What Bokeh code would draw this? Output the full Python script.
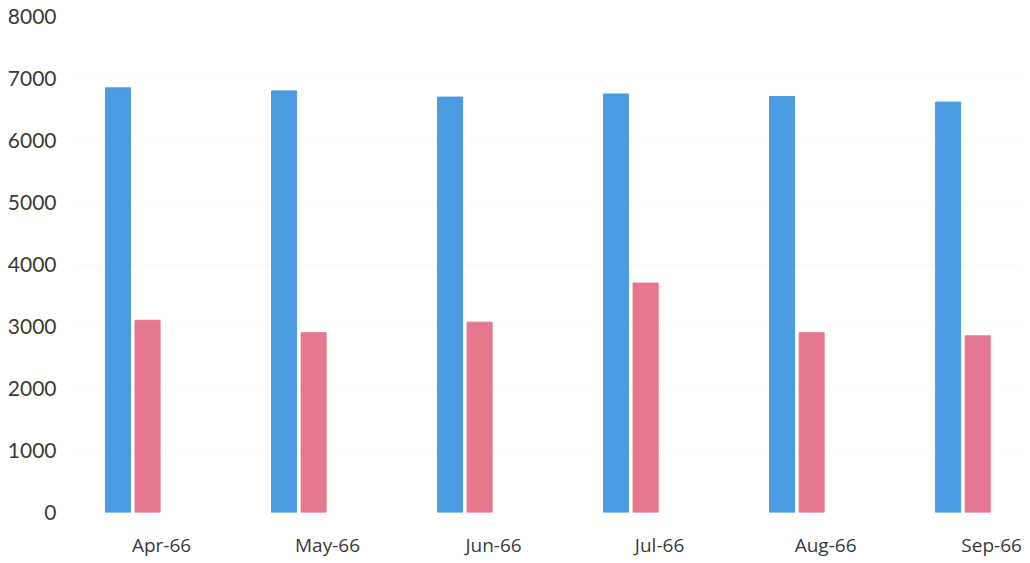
from bokeh.plotting import figure
from bokeh.models import Range1d, FixedTicker, ColumnDataSource
from bokeh.embed import file_html
from bokeh.resources import INLINE

months = ["Apr-66", "May-66", "Jun-66", "Jul-66", "Aug-66", "Sep-66"]
series_a = [6850, 6800, 6700, 6750, 6710, 6620]
series_b = [3100, 2900, 3070, 3700, 2900, 2850]
y_ticks = [0, 1000, 2000, 3000, 4000, 5000, 6000, 7000, 8000]

idx = list(range(len(months)))
src = ColumnDataSource(dict(
    xa=[i - 0.262 for i in idx],
    xb=[i - 0.084 for i in idx],
    a=series_a,
    b=series_b,
))

p = figure(frame_width=945, frame_height=496, output_backend="svg", toolbar_location=None,
           x_range=Range1d(-0.512, 5.18), y_range=Range1d(0, 8000),
           min_border_left=76, min_border_right=4, min_border_top=16, min_border_bottom=38)
p.outline_line_color = None

p.vbar(x="xa", top="a", width=0.151, source=src, color="#4b9be2")
p.vbar(x="xb", top="b", width=0.151, source=src, color="#e5788f")

p.xaxis.ticker = FixedTicker(ticks=idx)
p.xaxis.major_label_overrides = {i: m for i, m in zip(idx, months)}
p.yaxis.ticker = FixedTicker(ticks=y_ticks)

for ax in (p.xaxis, p.yaxis):
    ax.axis_line_color = None
    ax.major_tick_line_color = None
    ax.minor_tick_line_color = None
    ax.major_label_text_color = "#3a3a3a"

p.xaxis.major_label_text_font = "Open Sans"
p.xaxis.major_label_text_font_size = "19px"
p.xaxis.major_label_standoff = 13
p.yaxis.major_label_text_font = "Lato"
p.yaxis.major_label_text_font_size = "21px"
p.yaxis.major_label_standoff = 14

p.xgrid.grid_line_color = None
p.ygrid.grid_line_color = "#ececec"
p.ygrid.grid_line_dash = "2 6"

open("out.html", "w").write(file_html(p, INLINE))
